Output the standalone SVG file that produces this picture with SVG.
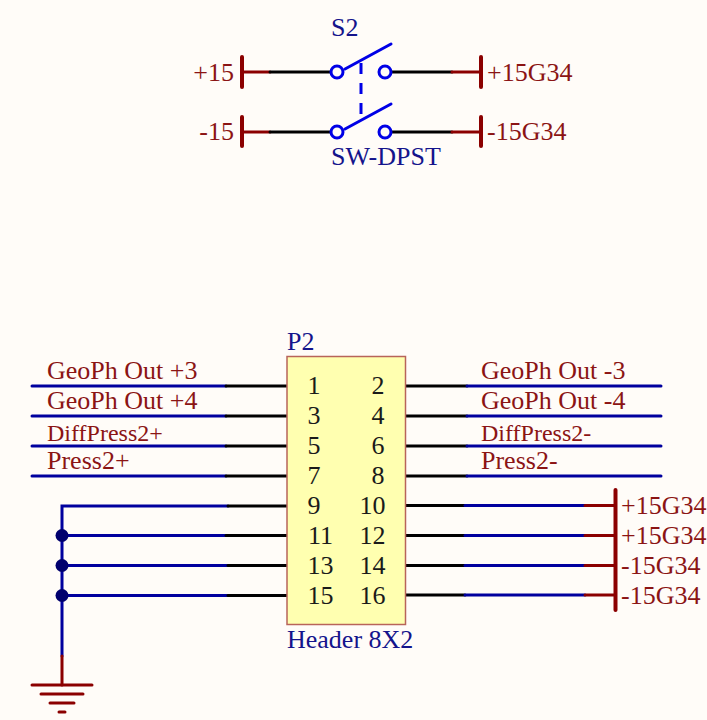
<svg xmlns="http://www.w3.org/2000/svg" width="707" height="720" viewBox="0 0 707 720">
<style>
text{font-family:"Liberation Serif","Times New Roman",serif;font-size:26px}
.r{fill:#8b1414}.b{fill:#14148c}.k{fill:#1a1a1a}
.m{text-anchor:middle}.e{text-anchor:end}
.sm{font-size:24px}
line,polyline{fill:none;stroke-width:3;stroke-linecap:round}
.w{stroke:#00009e}.p{stroke:#8b0000}.n{stroke:#000}.s{stroke:#0000e6}
.bar{stroke:#8b0000;stroke-width:4}
circle.c{fill:#fffcf8;stroke:#0000e6;stroke-width:3}
</style>
<rect width="707" height="720" fill="#fffcf8"/>
<g id="connectors">
<line class="p" x1="242" y1="72" x2="270" y2="72"/><line class="n" x1="270" y1="72" x2="331" y2="72"/>
<line class="n" x1="391" y1="72" x2="452" y2="72"/><line class="p" x1="452" y1="72" x2="481" y2="72"/>
<line class="p" x1="242" y1="132" x2="270" y2="132"/><line class="n" x1="270" y1="132" x2="331" y2="132"/>
<line class="n" x1="391" y1="132" x2="452" y2="132"/><line class="p" x1="452" y1="132" x2="481" y2="132"/>
<g id="left-nets">
<line class="w" x1="32" y1="386" x2="226" y2="386"/><line class="n" x1="226" y1="386" x2="287" y2="386"/>
<line class="w" x1="32" y1="416" x2="226" y2="416"/><line class="n" x1="226" y1="416" x2="287" y2="416"/>
<line class="w" x1="32" y1="446" x2="226" y2="446"/><line class="n" x1="226" y1="446" x2="287" y2="446"/>
<line class="w" x1="32" y1="476" x2="226" y2="476"/><line class="n" x1="226" y1="476" x2="287" y2="476"/>
<polyline class="w" points="228,506 62,506 62,656"/><line class="n" x1="228" y1="506" x2="287" y2="506"/>
<line class="w" x1="62" y1="535.5" x2="226" y2="535.5"/><line class="n" x1="226" y1="535.5" x2="287" y2="535.5"/>
<line class="w" x1="62" y1="565.5" x2="228" y2="565.5"/><line class="n" x1="228" y1="565.5" x2="287" y2="565.5"/>
<line class="w" x1="62" y1="595.5" x2="228" y2="595.5"/><line class="n" x1="228" y1="595.5" x2="287" y2="595.5"/>
<circle cx="62" cy="535.5" r="6.500" fill="#00006e"/><circle cx="62" cy="565.5" r="6.500" fill="#00006e"/><circle cx="62" cy="595.5" r="6.500" fill="#00006e"/>
<line class="p" x1="62" y1="656" x2="62" y2="685"/>
</g>
<g id="right-nets">
<line class="n" x1="406" y1="386" x2="467" y2="386"/><line class="w" x1="467" y1="386" x2="661" y2="386"/>
<line class="n" x1="406" y1="416" x2="467" y2="416"/><line class="w" x1="467" y1="416" x2="661" y2="416"/>
<line class="n" x1="406" y1="446" x2="467" y2="446"/><line class="w" x1="467" y1="446" x2="661" y2="446"/>
<line class="n" x1="406" y1="476" x2="467" y2="476"/><line class="w" x1="467" y1="476" x2="661" y2="476"/>
<line class="n" x1="406" y1="505.5" x2="465" y2="505.5"/><line class="w" x1="465" y1="505.5" x2="585" y2="505.5"/><line class="p" x1="585" y1="505.5" x2="615" y2="505.5"/>
<line class="n" x1="406" y1="535.5" x2="465" y2="535.5"/><line class="w" x1="465" y1="535.5" x2="585" y2="535.5"/><line class="p" x1="585" y1="535.5" x2="615" y2="535.5"/>
<line class="n" x1="406" y1="565.5" x2="465" y2="565.5"/><line class="w" x1="465" y1="565.5" x2="585" y2="565.5"/><line class="p" x1="585" y1="565.5" x2="615" y2="565.5"/>
<line class="n" x1="406" y1="595" x2="465" y2="595"/><line class="w" x1="465" y1="595" x2="585" y2="595"/><line class="p" x1="585" y1="595" x2="615" y2="595"/>
</g>
</g>
<g id="S2">
<circle class="c" cx="337" cy="72" r="6"/><circle class="c" cx="385" cy="72" r="6"/>
<circle class="c" cx="337" cy="132" r="6"/><circle class="c" cx="385" cy="132" r="6"/>
<line class="s" x1="345" y1="69" x2="391" y2="44"/><line class="s" x1="345" y1="129" x2="391" y2="104"/>
<line class="s" x1="361" y1="63" x2="361" y2="118" stroke-dasharray="11 9" style="stroke-linecap:butt"/>
<text class="b" x="331" y="36">S2</text>
<text class="b" x="331" y="165">SW-DPST</text>
</g>
<g id="port-plus15"><line class="bar" x1="242" y1="57" x2="242" y2="87"/><text class="r e" x="234" y="80.500">+15</text></g>
<g id="port-minus15"><line class="bar" x1="242" y1="117" x2="242" y2="146"/><text class="r e" x="234" y="140">-15</text></g>
<g id="port-plus15G34"><line class="bar" x1="481" y1="57" x2="481" y2="87"/><text class="r" x="487" y="80.500">+15G34</text></g>
<g id="port-minus15G34"><line class="bar" x1="481" y1="117" x2="481" y2="146"/><text class="r" x="487" y="140">-15G34</text></g>
<g id="P2">
<rect x="287" y="356.500" width="118.500" height="268" fill="#ffffb0" stroke="#b8645a" stroke-width="1.500"/>
<text class="b" x="287" y="350">P2</text>
<text class="b" x="287" y="648">Header 8X2</text>
<g class="pins">
<text class="k m" x="314" y="394">1</text><text class="k m" x="378" y="394">2</text>
<text class="k m" x="314" y="424">3</text><text class="k m" x="378" y="424">4</text>
<text class="k m" x="314" y="454">5</text><text class="k m" x="378" y="454">6</text>
<text class="k m" x="314" y="484">7</text><text class="k m" x="378" y="484">8</text>
<text class="k m" x="314" y="514">9</text><text class="k m" x="372.500" y="514">10</text>
<text class="k m" x="320.500" y="544">11</text><text class="k m" x="372.500" y="544">12</text>
<text class="k m" x="320.500" y="574">13</text><text class="k m" x="372.500" y="574">14</text>
<text class="k m" x="320.500" y="604">15</text><text class="k m" x="372.500" y="604">16</text>
</g>
</g>
<g id="net-labels">
<text class="r" x="47" y="379">GeoPh Out +3</text>
<text class="r" x="47" y="409">GeoPh Out +4</text>
<text class="r sm" x="47" y="441">DiffPress2+</text>
<text class="r" x="47" y="469">Press2+</text>
<text class="r" x="481" y="379">GeoPh Out -3</text>
<text class="r" x="481" y="409">GeoPh Out -4</text>
<text class="r sm" x="481" y="441">DiffPress2-</text>
<text class="r" x="481" y="469">Press2-</text>
</g>
<g id="power-port-right">
<line class="bar" x1="615.500" y1="490" x2="615.500" y2="610"/>
<text class="r" x="621" y="514">+15G34</text>
<text class="r" x="621" y="544">+15G34</text>
<text class="r" x="621" y="574">-15G34</text>
<text class="r" x="621" y="604">-15G34</text>
</g>
<g id="GND">
<line class="p" x1="32" y1="685" x2="92" y2="685"/>
<line class="p" x1="41" y1="694" x2="83" y2="694"/>
<line class="p" x1="50" y1="703" x2="74" y2="703"/>
<line class="p" x1="59" y1="712" x2="65" y2="712"/>
</g>
</svg>
